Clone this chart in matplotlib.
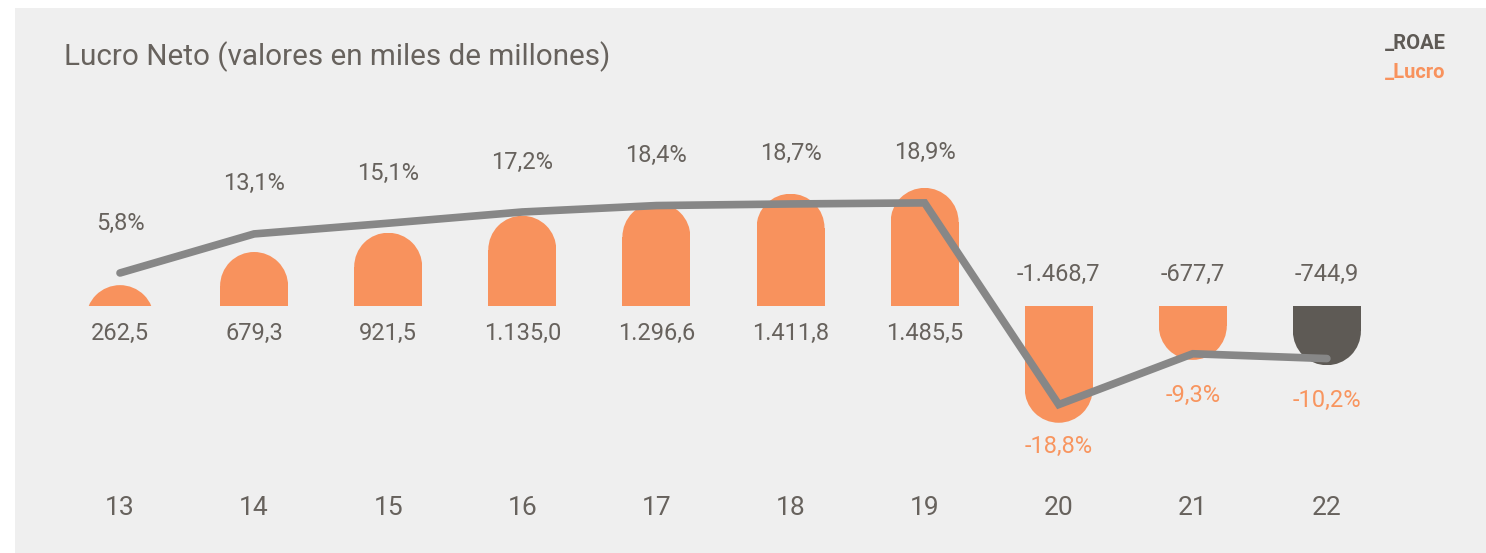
import matplotlib
matplotlib.use("Agg")
import matplotlib.pyplot as plt
from matplotlib.patches import Rectangle, Ellipse
from matplotlib.transforms import blended_transform_factory

# ---- data ----
years = ["13", "14", "15", "16", "17", "18", "19", "20", "21", "22"]
lucro = [262.5, 679.3, 921.5, 1135.0, 1296.6, 1411.8, 1485.5, -1468.7, -677.7, -744.9]
lucro_labels = ["262,5", "679,3", "921,5", "1.135,0", "1.296,6", "1.411,8", "1.485,5",
                "-1.468,7", "-677,7", "-744,9"]
roae = [5.8, 13.1, 15.1, 17.2, 18.4, 18.7, 18.9, -18.8, -9.3, -10.2]
roae_labels = ["5,8%", "13,1%", "15,1%", "17,2%", "18,4%", "18,7%", "18,9%",
               "-18,8%", "-9,3%", "-10,2%"]

# ---- style ----
W, H = 1486, 553
BG = "#efefef"
ORANGE = "#f8925d"
ORANGE_TXT = "#f8955f"
DARK = "#5e5a55"
LINE = "#878787"
TXT = "#67625d"
FONT = "Roboto"

fig = plt.figure(figsize=(W / 100, H / 100), dpi=100, facecolor="white")
fig.patches.append(Rectangle((15 / W, 0), 1 - 15 / W, (H - 8) / H,
                             transform=fig.transFigure, facecolor=BG,
                             edgecolor="none", zorder=-10))

ax = fig.add_axes([0, 0, 1, 1])
ax.patch.set_alpha(0)
ax.axis("off")
x0_px, dx_px = 120, 134.1
ax.set_xlim(-x0_px / dx_px, (W - x0_px) / dx_px)
base_px = H - 306
ppu = 0.0795  # pixel per value unit
ax.set_ylim(-base_px / ppu, (H - base_px) / ppu)

ax2 = ax.twinx()
ax2.axis("off")
ax2.patch.set_alpha(0)
zero2 = H - 304
ppu2 = 5.35
ax2.set_ylim(-zero2 / ppu2, (H - zero2) / ppu2)
ax2.set_xlim(ax.get_xlim())

bar_w = 68 / dx_px
rx = bar_w / 2
ry = 34 / ppu

xs = list(range(len(years)))
for i, v in enumerate(lucro):
    color = DARK if i == len(lucro) - 1 else ORANGE
    sign = 1 if v >= 0 else -1
    clip = Rectangle((i - rx, min(0, v)), bar_w, abs(v), transform=ax.transData)
    body_end = v - sign * ry
    if abs(v) > ry:
        r = Rectangle((i - rx, 0), bar_w, body_end, facecolor=color, edgecolor="none", zorder=2)
        ax.add_patch(r)
    e = Ellipse((i, body_end), 2 * rx, 2 * ry, facecolor=color, edgecolor="none", zorder=2)
    ax.add_patch(e)
    e.set_clip_path(clip)
    # value label
    off = -27 if v >= 0 else 32
    ax.annotate(lucro_labels[i], (i, 0), xytext=(0, off), textcoords="offset pixels",
                ha="center", va="center", fontsize=17, color=TXT, family=FONT)

ax2.plot(xs, roae, color=LINE, lw=5.5, solid_capstyle="round",
         solid_joinstyle="miter", zorder=3)

for i, v in enumerate(roae):
    if v >= 0:
        ax2.annotate(roae_labels[i], (i, v), xytext=(0, 50), textcoords="offset pixels",
                     ha="center", va="center", fontsize=17, color=TXT, family=FONT)
    else:
        ax2.annotate(roae_labels[i], (i, v), xytext=(0, -42), textcoords="offset pixels",
                     ha="center", va="center", fontsize=17, color=ORANGE_TXT, family=FONT)

tr = blended_transform_factory(ax.transData, fig.transFigure)
for i, y in enumerate(years):
    ax.text(i, (H - 508) / H, y, transform=tr, ha="center", va="center",
            fontsize=19, color=TXT, family=FONT)

fig.text(64 / W, (H - 65) / H, "Lucro Neto (valores en miles de millones)",
         ha="left", va="baseline", fontsize=21.3, color=TXT, family=FONT)
fig.text(1385 / W, (H - 49) / H, "_ROAE", ha="left", va="baseline",
         fontsize=14.5, color=DARK, family=FONT, fontweight="bold")
fig.text(1385 / W, (H - 78) / H, "_Lucro", ha="left", va="baseline",
         fontsize=14.5, color=ORANGE, family=FONT, fontweight="bold")

fig.savefig("out.png", dpi=100, facecolor="white")
